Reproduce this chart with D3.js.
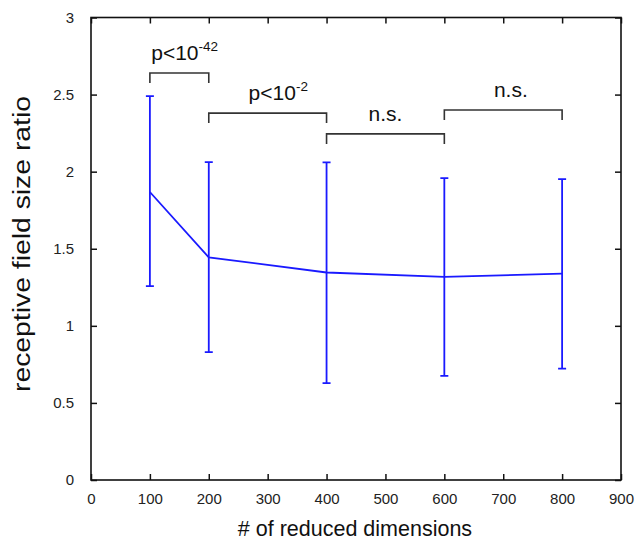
<!DOCTYPE html>
<html>
<head>
<meta charset="utf-8">
<script src="https://cdn.jsdelivr.net/npm/d3@7"></script>
<style>
    body { margin: 0; background: #fff; }
    svg { font-family: 'Liberation Sans', Arial, sans-serif; }
    .tick text { font-size: 15px; fill: #222; }
</style>
</head>
<body>
<svg id="chart"></svg>
<script>
// reduced dimensions and receptive field size ratio (mean, error bar ends)
const dims = [100, 200, 400, 600, 800];
const means = [1.868, 1.444, 1.346, 1.318, 1.338];
const lows = [1.258, 0.83, 0.629, 0.676, 0.722];
const highs = [2.49, 2.062, 2.06, 1.958, 1.952];

// significance brackets
const bracketFrom = [100, 200, 400, 600];
const bracketTo = [200, 400, 600, 800];
const bracketLevel = [2.64, 2.38, 2.245, 2.40];
const bracketLabel = ['p<10', 'p<10', 'n.s.', 'n.s.'];
const bracketSup = ['-42', '-2', '', ''];
const labelAt = [159, 318, 500, 713];

const xTicks = d3.range(0, 901, 100);
const yTicks = [0, 0.5, 1, 1.5, 2, 2.5, 3];

const width = 635, height = 542;
const margin = {top: 17.5, right: 14, bottom: 62, left: 91};
const svg = d3.select('#chart').attr('width', width).attr('height', height);

const x = d3.scaleLinear().domain([0, 900]).range([margin.left, width - margin.right]);
const y = d3.scaleLinear().domain([0, 3]).range([height - margin.bottom, margin.top]);

const tick = 6;
const axisStyle = g => {
    g.select('.domain').remove();
    g.selectAll('.tick line').attr('stroke', '#111').attr('stroke-width', 1.5);
};

// bottom axis with inward ticks
svg.append('g')
    .attr('transform', `translate(0,${y(0)})`)
    .call(d3.axisBottom(x).tickValues(xTicks).tickSizeInner(-tick).tickSizeOuter(0).tickPadding(13))
    .call(axisStyle);
svg.append('g')
    .attr('transform', `translate(0,${y(3)})`)
    .call(d3.axisTop(x).tickValues(xTicks).tickSizeInner(-tick).tickSizeOuter(0).tickFormat(''))
    .call(axisStyle);
svg.append('g')
    .attr('transform', `translate(${x(0)},0)`)
    .call(d3.axisLeft(y).tickValues(yTicks).tickSizeInner(-tick).tickSizeOuter(0).tickPadding(17)
        .tickFormat(d3.format('')))
    .call(axisStyle);
svg.append('g')
    .attr('transform', `translate(${x(900)},0)`)
    .call(d3.axisRight(y).tickValues(yTicks).tickSizeInner(-tick).tickSizeOuter(0).tickFormat(''))
    .call(axisStyle);

// frame
svg.append('rect')
    .attr('x', x(0)).attr('y', y(3))
    .attr('width', x(900) - x(0)).attr('height', y(0) - y(3))
    .attr('fill', 'none').attr('stroke', '#111').attr('stroke-width', 1.6);

const blue = '#1a1aff';
const pts = dims.map((d, i) => ({d, m: means[i], lo: lows[i], hi: highs[i]}));

svg.append('path')
    .datum(pts)
    .attr('fill', 'none')
    .attr('stroke', blue)
    .attr('stroke-width', 1.8)
    .attr('d', d3.line().x(p => x(p.d)).y(p => y(p.m)));

const bars = svg.append('g').attr('stroke', blue).attr('stroke-width', 1.8);
bars.selectAll('.eb')
    .data(pts)
    .enter()
    .append('path')
    .attr('fill', 'none')
    .attr('d', p => {
        const cx = x(p.d), cap = 4;
        return `M${cx},${y(p.lo)}V${y(p.hi)}` +
            `M${cx - cap},${y(p.hi)}H${cx + cap}` +
            `M${cx - cap},${y(p.lo)}H${cx + cap}`;
    });

// brackets
const brackets = bracketFrom.map((f, i) => ({
    f, t: bracketTo[i], lv: bracketLevel[i], lab: bracketLabel[i], sup: bracketSup[i], at: labelAt[i]
}));
svg.append('g')
    .selectAll('path')
    .data(brackets)
    .enter()
    .append('path')
    .attr('fill', 'none')
    .attr('stroke', '#333')
    .attr('stroke-width', 1.6)
    .attr('d', b => `M${x(b.f)},${y(b.lv) + 10}V${y(b.lv)}H${x(b.t)}V${y(b.lv) + 10}`);

const labels = svg.append('g')
    .selectAll('text')
    .data(brackets)
    .enter()
    .append('text')
    .attr('x', b => x(b.at))
    .attr('y', b => y(b.lv) - 13)
    .attr('text-anchor', 'middle')
    .attr('font-size', 21)
    .attr('fill', '#111')
    .text(b => b.lab);
labels.filter(b => b.sup)
    .append('tspan')
    .attr('dy', -9)
    .attr('font-size', 13.5)
    .text(b => b.sup);

// axis titles
svg.append('text')
    .attr('x', 355)
    .attr('y', 536)
    .attr('text-anchor', 'middle')
    .attr('font-size', 21.5)
    .attr('fill', '#111')
    .text('# of reduced dimensions');

svg.append('text')
    .attr('transform', `translate(30,244) rotate(-90)`)
    .attr('text-anchor', 'middle')
    .attr('font-size', 23.5)
    .attr('textLength', 296)
    .attr('lengthAdjust', 'spacingAndGlyphs')
    .attr('fill', '#111')
    .text('receptive field size ratio');
</script>
</body>
</html>
